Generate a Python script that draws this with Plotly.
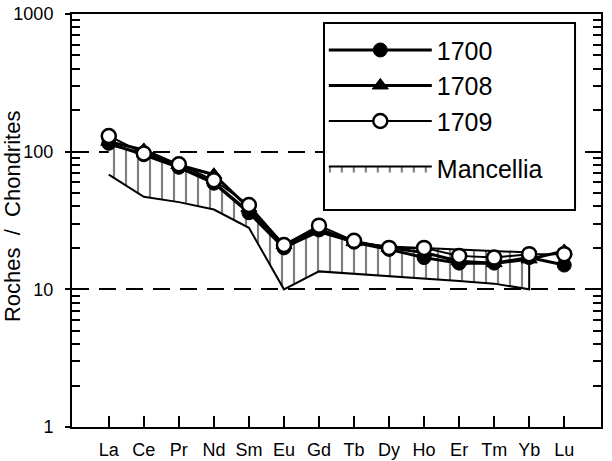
import plotly.graph_objects as go

elements = ["La", "Ce", "Pr", "Nd", "Sm", "Eu", "Gd", "Tb", "Dy", "Ho", "Er", "Tm", "Yb", "Lu"]
s1700 = [115, 95, 77, 59, 36, 20, 27, 22, 19.5, 17, 15.5, 15.5, 17, 15]
s1708 = [118, 103, 80, 68, 39, 21, 27.5, 22, 20, 18.5, 16, 15.5, 16.5, 19]
s1709 = [130, 97, 81, 62, 41, 21, 29, 22.5, 20, 20, 17.5, 17, 18, 18]
manc_upper = [112, 97, 78, 60, 37, 20, 26, 22, 20.5, 20, 19.5, 19, 18.5]
manc_lower = [68, 47, 43, 38, 28, 10, 13.5, 13, 12.5, 12, 11.5, 11, 10]
ytickvals = [1, 10, 100, 1000]
yticktext = ["1", "10", "100", "1000"]
ytitle = "Roches  /  Chondrites"

FONT = "Arial, Liberation Sans, sans-serif"
xi = list(range(len(elements)))
nb = len(manc_upper)

fig = go.Figure()

fig.add_trace(go.Scatter(
    x=xi[:nb] + xi[:nb][::-1],
    y=manc_upper + manc_lower[::-1],
    mode="lines", fill="toself", name="Mancellia",
    fillcolor="white",
    fillpattern=dict(shape="|", fgcolor="black", bgcolor="white", size=12, solidity=0.18),
    line=dict(color="black", width=2),
    legendrank=4, legendgroup="b",
))

fig.add_trace(go.Scatter(
    x=xi, y=s1700, mode="lines+markers", name="1700",
    line=dict(color="black", width=3),
    marker=dict(symbol="circle", size=14, color="black", line=dict(color="black", width=1)),
    legendrank=1, legendgroup="a",
))
fig.add_trace(go.Scatter(
    x=xi, y=s1708, mode="lines+markers", name="1708",
    line=dict(color="black", width=3),
    marker=dict(symbol="triangle-up", size=14, color="black", line=dict(color="black", width=1)),
    legendrank=2, legendgroup="a",
))
fig.add_trace(go.Scatter(
    x=xi, y=s1709, mode="lines+markers", name="1709",
    line=dict(color="black", width=2),
    marker=dict(symbol="circle", size=14, color="white", line=dict(color="black", width=2.5)),
    legendrank=3, legendgroup="a",
))
# helper trace so the overlaid tick axis is drawn
fig.add_trace(go.Scatter(x=[None], y=[None], yaxis="y2", showlegend=False, hoverinfo="skip"))

fig.update_layout(
    width=612, height=461,
    margin=dict(l=72, r=11, t=14, b=34),
    paper_bgcolor="white", plot_bgcolor="white",
    font=dict(family=FONT, color="black"),
    showlegend=True,
    legend=dict(
        x=0.476, y=0.968, xanchor="left", yanchor="top",
        bgcolor="rgba(0,0,0,0)", borderwidth=0,
        font=dict(size=25, family=FONT, color="black"),
        itemwidth=103, tracegroupgap=12,
    ),
    # framed white panel behind the legend entries
    shapes=[dict(
        type="rect", xref="paper", yref="paper",
        x0=0.4764, x1=0.9509, y0=0.5254, y1=0.9782,
        fillcolor="white", line=dict(color="black", width=2), layer="above",
    )],
    xaxis=dict(
        range=[-1.05, 14.05], automargin=False,
        tickmode="array", tickvals=xi, ticktext=elements,
        ticks="inside", ticklen=11, tickwidth=2, tickcolor="black",
        showline=True, linecolor="black", linewidth=2, mirror=True,
        showgrid=False, zeroline=False, ticklabelstandoff=5,
        tickfont=dict(size=18, family=FONT),
    ),
    yaxis=dict(
        type="log", range=[0, 3], automargin=False,
        tickmode="array", tickvals=ytickvals, ticktext=yticktext,
        ticks="inside", ticklen=10, tickwidth=2, tickcolor="black",
        minor=dict(ticks="inside", ticklen=8, tickwidth=2, tickcolor="black", dtick="D1", showgrid=False),
        showline=True, linecolor="black", linewidth=2, mirror="ticks",
        showgrid=True, gridcolor="black", gridwidth=2, griddash="17px,10px",
        zeroline=False, ticklabelstandoff=13, ticklabeloverflow="allow",
        tickfont=dict(size=18, family=FONT),
    ),
    yaxis2=dict(
        type="log", range=[0, 3], overlaying="y", side="left", automargin=False,
        tickmode="array", tickvals=ytickvals, showticklabels=False,
        ticks="outside", ticklen=6, tickwidth=2, tickcolor="black",
        showline=False, showgrid=False, zeroline=False,
    ),
    annotations=[dict(
        text=ytitle, textangle=-90, xref="paper", yref="paper",
        x=-0.112, y=0.51, xanchor="center", yanchor="middle", showarrow=False,
        font=dict(size=22, family=FONT, color="black"),
    )],
)

# remove the browser's default 8px body margin so the figure sits at the page corner
fig.write_html("out.html", config={"displayModeBar": False},
               post_script="document.body.style.margin='0';")
